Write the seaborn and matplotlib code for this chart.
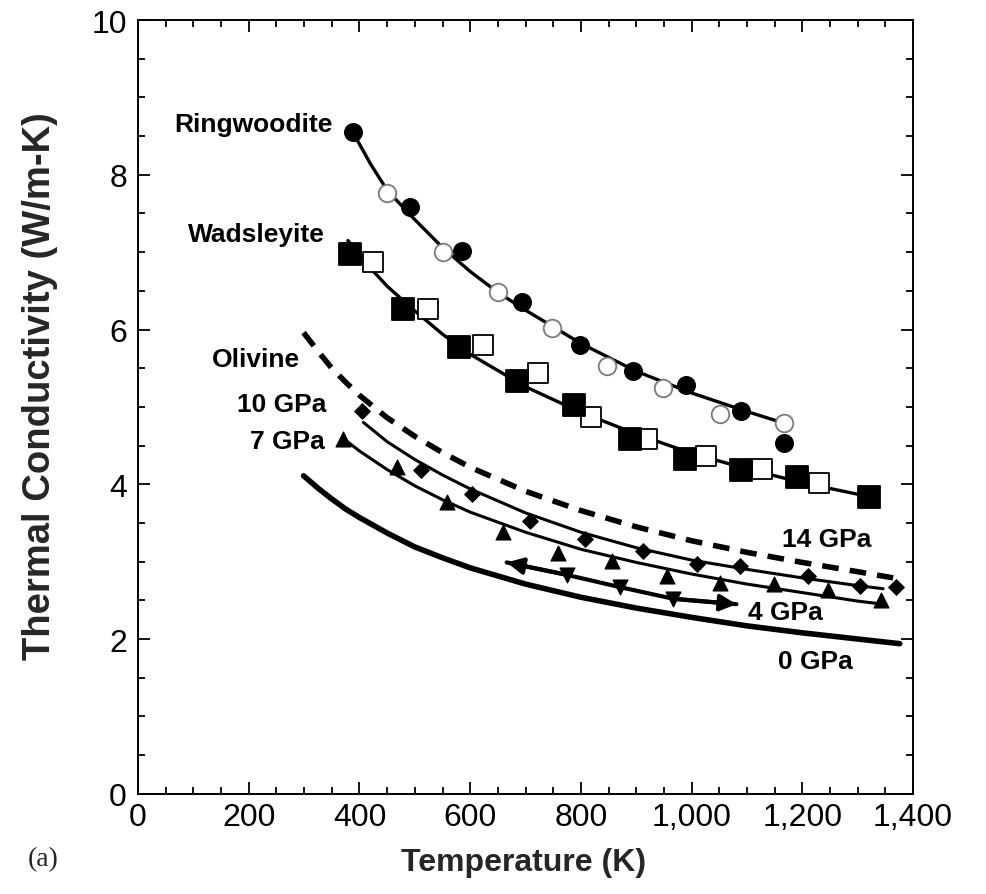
import matplotlib
matplotlib.use("Agg")
import matplotlib.pyplot as plt
from matplotlib.ticker import MultipleLocator, FuncFormatter
import seaborn as sns
import pandas as pd

# ---------------- data ----------------
ring_filled_T = [388, 491, 585, 693, 798, 895, 989, 1089, 1167]
ring_filled_K = [8.55, 7.59, 7.02, 6.35, 5.80, 5.47, 5.28, 4.95, 4.53]
ring_open_T = [449, 550, 651, 748, 847, 949, 1052, 1167]
ring_open_K = [7.77, 7.00, 6.48, 6.02, 5.53, 5.25, 4.91, 4.79]
ring_fit_T = [388, 420, 450, 500, 550, 600, 650, 700, 800, 900, 1000, 1100, 1167]
ring_fit_K = [8.55, 8.14, 7.80, 7.42, 7.06, 6.75, 6.48, 6.25, 5.82, 5.46, 5.18, 4.94, 4.79]

wads_filled_T = [383, 478, 579, 684, 788, 889, 988, 1089, 1190, 1321]
wads_filled_K = [6.98, 6.27, 5.77, 5.34, 5.02, 4.59, 4.33, 4.18, 4.09, 3.84]
wads_open_T = [425, 523, 624, 723, 818, 920, 1026, 1127, 1230]
wads_open_K = [6.87, 6.27, 5.80, 5.44, 4.87, 4.59, 4.37, 4.20, 4.02]
wads_fit_T = [379, 410, 450, 500, 550, 600, 700, 800, 900, 1000, 1100, 1200, 1321]
wads_fit_K = [7.15, 6.87, 6.56, 6.24, 5.94, 5.68, 5.26, 4.93, 4.65, 4.40, 4.20, 4.02, 3.84]

ol14_T = [299, 325, 350, 375, 400, 450, 500, 550, 600, 700, 800, 900, 1000, 1100, 1200, 1300, 1364]
ol14_K = [5.96, 5.72, 5.50, 5.32, 5.15, 4.86, 4.62, 4.41, 4.22, 3.91, 3.66, 3.45, 3.27, 3.12, 2.99, 2.87, 2.79]

ol10_line_T = [407, 450, 500, 550, 600, 700, 800, 900, 1000, 1100, 1200, 1300, 1346]
ol10_line_K = [4.80, 4.55, 4.32, 4.12, 3.94, 3.63, 3.38, 3.18, 3.02, 2.90, 2.79, 2.69, 2.65]
ol10_pts_T = [404, 512, 603, 708, 807, 913, 1009, 1087, 1211, 1304, 1370]
ol10_pts_K = [4.95, 4.18, 3.88, 3.53, 3.29, 3.14, 2.97, 2.95, 2.82, 2.69, 2.67]

ol7_line_T = [371, 400, 450, 500, 550, 600, 700, 800, 900, 1000, 1100, 1200, 1300, 1346]
ol7_line_K = [4.59, 4.43, 4.19, 3.98, 3.80, 3.64, 3.38, 3.16, 2.99, 2.84, 2.71, 2.60, 2.49, 2.45]
ol7_pts_T = [371, 467, 558, 660, 759, 856, 955, 1051, 1148, 1247, 1343]
ol7_pts_K = [4.59, 4.22, 3.77, 3.38, 3.11, 3.01, 2.82, 2.73, 2.71, 2.63, 2.50]

ol4_T = [666, 774, 871, 967, 1081]
ol4_K = [2.99, 2.83, 2.67, 2.52, 2.45]
ol4_pts_T = [774, 871, 967]
ol4_pts_K = [2.83, 2.67, 2.52]

ol0_T = [299, 325, 350, 375, 400, 450, 500, 550, 600, 700, 800, 900, 1000, 1100, 1200, 1300, 1376]
ol0_K = [4.11, 3.95, 3.81, 3.68, 3.57, 3.37, 3.19, 3.05, 2.92, 2.71, 2.54, 2.40, 2.28, 2.17, 2.08, 2.00, 1.94]

x_ticks = [0, 200, 400, 600, 800, 1000, 1200, 1400]
y_ticks = [0, 2, 4, 6, 8, 10]

# ---------------- style ----------------
sns.set_style("ticks")
plt.rcParams['font.family'] = ['Liberation Sans', 'DejaVu Sans']
plt.rcParams['axes.linewidth'] = 1.4

fig = plt.figure(figsize=(9.86, 8.95), dpi=100)
ax = fig.add_axes([0.14, 0.112, 0.786, 0.8645])


def line(T, K, **kw):
    sns.lineplot(data=pd.DataFrame({"T": T, "K": K}), x="T", y="K", ax=ax,
                 sort=False, estimator=None, legend=False, **kw)


def pts(T, K, **kw):
    sns.scatterplot(data=pd.DataFrame({"T": T, "K": K}), x="T", y="K", ax=ax,
                    legend=False, **kw)


# Ringwoodite
line(ring_fit_T, ring_fit_K, color="black", linewidth=2.4)
pts(ring_open_T, ring_open_K, marker="o", s=160, facecolor="white",
    edgecolor="#7a7a7a", linewidth=1.3, zorder=4)
pts(ring_filled_T, ring_filled_K, marker="o", s=160, color="black",
    edgecolor="black", zorder=5)

# Wadsleyite
line(wads_fit_T, wads_fit_K, color="black", linewidth=2.4)
pts(wads_open_T, wads_open_K, marker="s", s=200, facecolor="white",
    edgecolor="black", linewidth=1.3, zorder=4)
pts(wads_filled_T, wads_filled_K, marker="s", s=270, color="black",
    edgecolor="black", zorder=5)

# Olivine 14 GPa (dashed)
line(ol14_T, ol14_K, color="black", linewidth=4, dashes=(3.0, 2.0))
# 10 GPa
line(ol10_line_T, ol10_line_K, color="black", linewidth=2.2)
pts(ol10_pts_T, ol10_pts_K, marker="D", s=65, color="black", edgecolor="black", zorder=5)
# 7 GPa
line(ol7_line_T, ol7_line_K, color="black", linewidth=2.2)
pts(ol7_pts_T, ol7_pts_K, marker="^", s=115, color="black", edgecolor="black", zorder=5)
# 4 GPa
line(ol4_T, ol4_K, color="black", linewidth=3)
pts(ol4_pts_T, ol4_pts_K, marker="v", s=115, color="black", edgecolor="black", zorder=5)
ax.annotate("", xy=(ol4_T[0], ol4_K[0]), xytext=(ol4_T[1], ol4_K[1]),
            arrowprops=dict(arrowstyle="-|>", color="black", lw=3,
                            mutation_scale=24, shrinkA=0, shrinkB=0))
ax.annotate("", xy=(ol4_T[-1], ol4_K[-1]), xytext=(ol4_T[-2], ol4_K[-2]),
            arrowprops=dict(arrowstyle="-|>", color="black", lw=3,
                            mutation_scale=24, shrinkA=0, shrinkB=0))
# 0 GPa
line(ol0_T, ol0_K, color="black", linewidth=4)

# ---------------- labels on the curves ----------------
lab = dict(fontsize=19, fontweight="bold", va="center", color="black")
ax.text(352, 8.66, "Ringwoodite", ha="right", **lab)
ax.text(338, 7.23, "Wadsleyite", ha="right", **lab)
ax.text(293, 5.62, "Olivine", ha="right", **lab)
ax.text(341, 5.04, "10 GPa", ha="right", **lab)
ax.text(338, 4.56, "7 GPa", ha="right", **lab)
ax.text(1163, 3.29, "14 GPa", ha="left", **lab)
ax.text(1102, 2.35, "4 GPa", ha="left", **lab)
ax.text(1156, 1.72, "0 GPa", ha="left", **lab)

# ---------------- axes ----------------
ax.set_xlim(0, 1400)
ax.set_ylim(0, 10)
ax.set_xticks(x_ticks)
ax.set_yticks(y_ticks)
ax.xaxis.set_minor_locator(MultipleLocator(50))
ax.yaxis.set_minor_locator(MultipleLocator(0.5))
ax.xaxis.set_major_formatter(FuncFormatter(lambda v, p: f"{int(v):,}"))
ax.yaxis.set_major_formatter(FuncFormatter(lambda v, p: f"{int(v)}"))
ax.tick_params(which="both", direction="in", top=True, right=True,
               width=1.3, colors="black", labelsize=23)
ax.tick_params(which="major", length=8.5)
ax.tick_params(axis="y", which="major", pad=8)
ax.tick_params(axis="x", which="major", pad=6)
ax.tick_params(which="minor", length=5)
for sp in ax.spines.values():
    sp.set_visible(True)
    sp.set_color("black")

ax.set_xlabel("Temperature (K)", fontsize=23, fontweight="bold")
ax.xaxis.set_label_coords(0.497, -0.0685)
ax.set_ylabel("Thermal Conductivity (W/m-K)", fontsize=27.5, fontweight="bold")
ax.yaxis.set_label_coords(-0.103, 0.528)

fig.text(0.028, 0.039, "(a)", fontsize=20, family=["Liberation Serif", "DejaVu Serif"],
         va="center", ha="left")

fig.savefig("out.png", dpi=100)
